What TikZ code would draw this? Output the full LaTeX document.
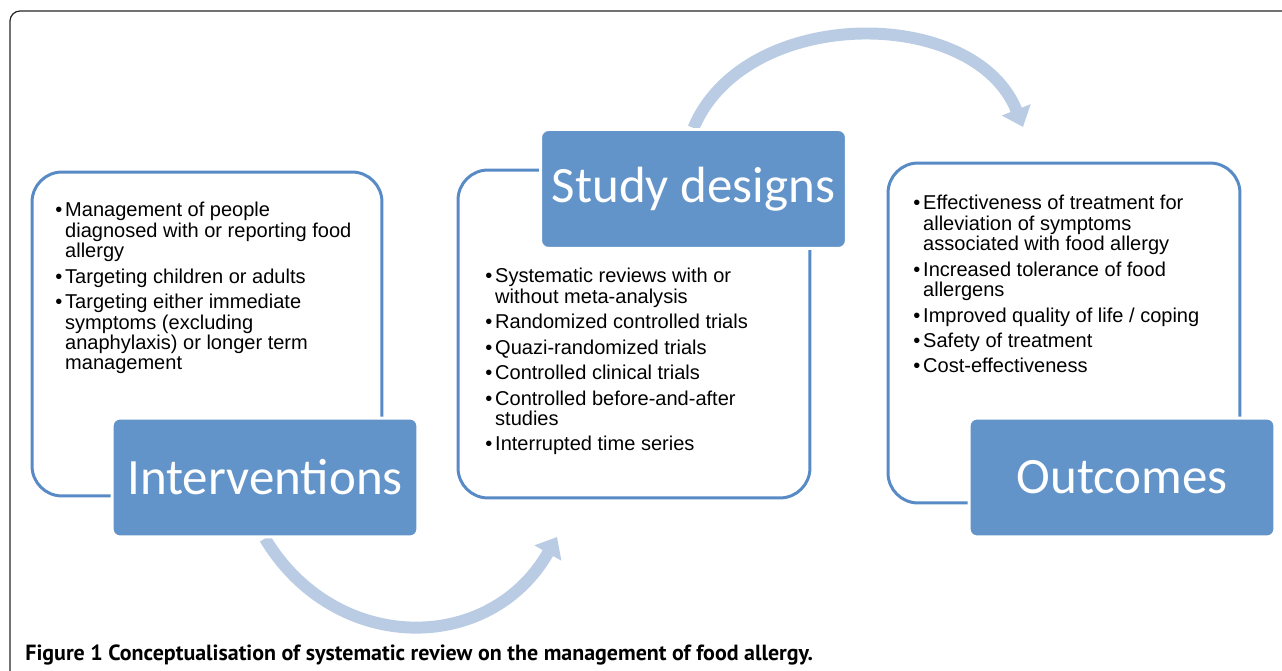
\documentclass[tikz,border=0pt]{standalone}
\usepackage{fontspec}
\setmainfont{Liberation Sans}
\newfontfamily\carlito{Carlito}
\newfontfamily\ptsans{PT Sans}
\usetikzlibrary{arrows.meta,backgrounds}
\definecolor{farblue}{RGB}{99,148,201}
\definecolor{farline}{RGB}{88,139,198}
\definecolor{fararrow}{RGB}{185,204,228}
\newcommand{\bul}{\makebox[5.6pt][l]{•}}

\begin{document}
\begin{tikzpicture}[x=0.02cm, y=-0.02cm,
    panel/.style={draw=farline, line width=1.7pt, rounded corners=0.6cm, fill=white, inner sep=0pt},
    title/.style={fill=farblue, draw=white, line width=1.7pt, rounded corners=0.16cm,
        minimum width=6.12cm, minimum height=2.38cm, inner sep=0pt, text=white,
        font=\carlito\fontsize{29}{30}\selectfont},
    list/.style={anchor=base west, inner sep=0pt, font=\fontsize{11.4}{11.3}\selectfont},
    flow/.style={fararrow, line width=6.8pt, -{Triangle[width=17pt, length=10.5pt]}}]
    \useasboundingbox (0,0) rectangle (1282,671);
    % outer frame
    \draw[line width=0.7pt, black!85, rounded corners=0.2cm] (30,681) -- (10,681) -- (10,11) -- (1300,11);
    % white panels
    \node[panel, minimum width=7cm, minimum height=6.48cm] (intpanel) at (207,334) {};
    \node[panel, minimum width=7.04cm, minimum height=6.56cm] (sdpanel) at (634,334) {};
    \node[panel, minimum width=7.04cm, minimum height=6.8cm] (outpanel) at (1064,333) {};
    % lists
    \node[list] (intlist) at (55,217) {\begin{tabular}[t]{@{}l@{}l@{}}
        \bul & Management of people\\
             & diagnosed with or reporting food\\
             & allergy\\[2.8pt]
        \bul & Targeting children or adults\\[2.8pt]
        \bul & Targeting either immediate\\
             & symptoms (excluding\\
             & anaphylaxis) or longer term\\
             & management
    \end{tabular}};
    \node[list] (sdlist) at (485,283) {\begin{tabular}[t]{@{}l@{}l@{}}
        \bul & Systematic reviews with or\\
             & without meta-analysis\\[2.8pt]
        \bul & Randomized controlled trials\\[2.8pt]
        \bul & Quazi-randomized trials\\[2.8pt]
        \bul & Controlled clinical trials\\[2.8pt]
        \bul & Controlled before-and-after\\
             & studies\\[2.8pt]
        \bul & Interrupted time series
    \end{tabular}};
    \node[list] (outlist) at (913,210) {\begin{tabular}[t]{@{}l@{}l@{}}
        \bul & Effectiveness of treatment for\\
             & alleviation of symptoms\\
             & associated with food allergy\\[2.8pt]
        \bul & Increased tolerance of food\\
             & allergens\\[2.8pt]
        \bul & Improved quality of life / coping\\[2.8pt]
        \bul & Safety of treatment\\[2.8pt]
        \bul & Cost-effectiveness
    \end{tabular}};
    % blue titles
    \node[title] (int) at (265,477.5) {Interventions};
    \node[title] (sd) at (693.5,189) {Study designs};
    \node[title] (out) at (1122,477.5) {Outcomes};
    % curved arrows
    \coordinate (sdtip) at (557,537);
    \coordinate (outtip) at (1023,127);
    \begin{scope}[on background layer]
        \draw[flow] (int.south) .. controls (335,655) and (490,655) .. (sdtip);
        \draw[flow] (sd.north) .. controls (745,5) and (975,5) .. (outtip);
    \end{scope}
    % caption
    \node[anchor=base west, inner sep=0pt, font=\ptsans\bfseries\fontsize{12.5}{14}\selectfont] (caption) at (25,661)
        {Figure 1 Conceptualisation of systematic review on the management of food allergy.};
\end{tikzpicture}
\end{document}
